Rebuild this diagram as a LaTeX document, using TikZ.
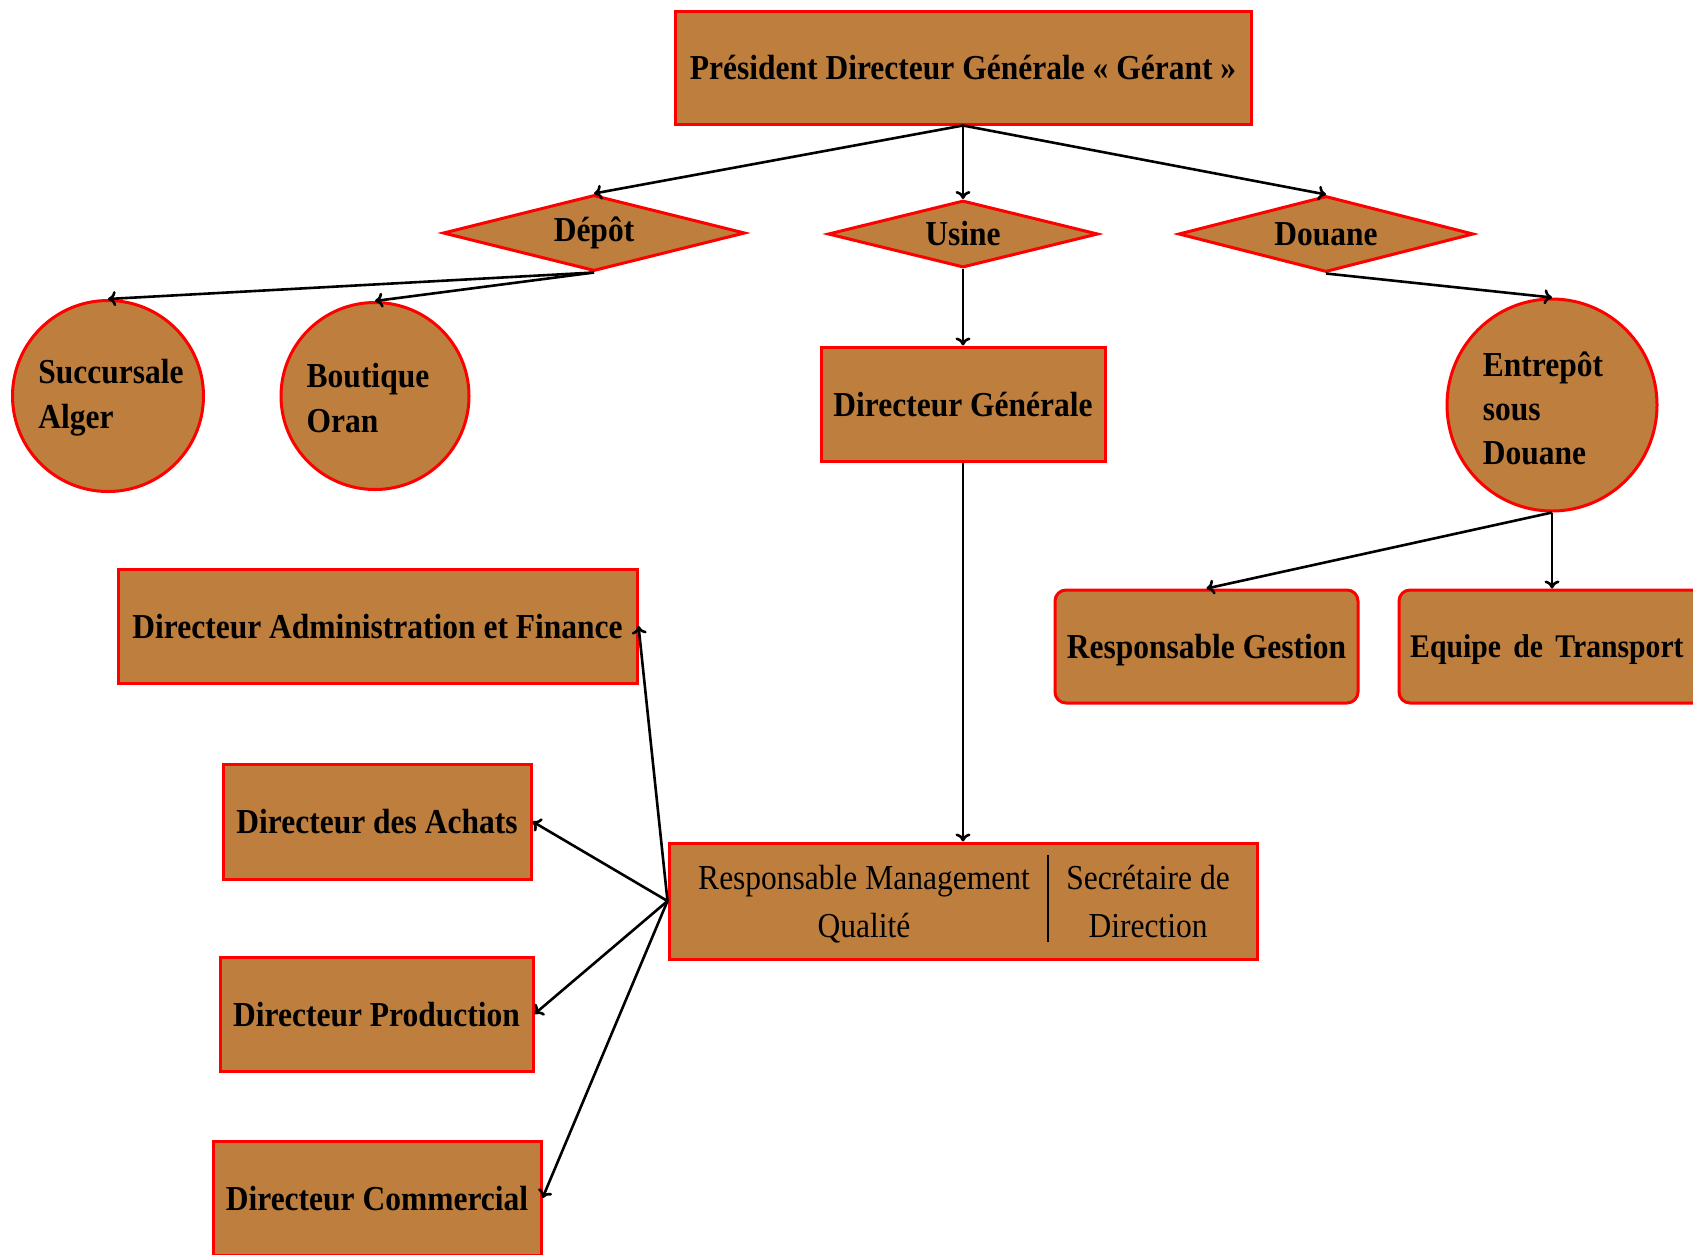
\documentclass[tikz,border=0pt]{standalone}
\usepackage{fontspec}
\setmainfont{Liberation Serif}[FakeStretch=0.9]
\usetikzlibrary{shapes.geometric,arrows.meta}
\definecolor{unitfill}{RGB}{190,126,62}
\definecolor{unitline}{RGB}{255,0,0}
\begin{document}
\begin{tikzpicture}[x=1pt,y=-1pt,
  unit/.style={draw=unitline, fill=unitfill, line width=3pt, inner sep=0pt},
  unitbox/.style={unit, rectangle, text depth=-4pt},
  roundbox/.style={unit, rectangle, rounded corners=11pt, text depth=-3pt},
  losange/.style={unit, diamond, aspect=4},
  rond/.style={unit, ellipse},
  boldtext/.style={font=\fontsize{35}{45}\selectfont\bfseries, inner sep=0pt},
  plaintext/.style={font=\fontsize{35}{48}\selectfont, inner sep=0pt},
  link/.style={draw=black, line width=2.6pt, -{To[length=8pt,width=15pt]}},
]
\useasboundingbox (0,0) rectangle (1693,1254);
\clip (0,0) rectangle (1693,1254);

% top of the hierarchy
\node[unitbox, boldtext, minimum width=576pt, minimum height=113pt] (pdg) at (963,67.5)
  {Président Directeur Générale « Gérant »};

% sites
\node[losange, boldtext, minimum width=302pt, minimum height=76pt] (depot) at (594,233) {Dépôt};
\node[losange, boldtext, minimum width=270pt, minimum height=67pt] (usine) at (963,234) {Usine};
\node[losange, boldtext, minimum width=295pt, minimum height=76pt] (douane) at (1326,234) {Douane};

% branches of the depot
\node[rond, minimum width=191pt, minimum height=191pt] (succ) at (108,396) {};
\node[boldtext, align=left] (succ-label) at (111,398) {Succursale\\Alger};
\node[rond, minimum width=188pt, minimum height=187pt] (boutique) at (375,396) {};
\node[boldtext, align=left] (boutique-label) at (368,398) {Boutique\\Oran};

% factory management
\node[unitbox, boldtext, minimum width=284pt, minimum height=114pt] (dg) at (963,404) {Directeur Générale};

% bonded warehouse
\node[rond, minimum width=210pt, minimum height=212pt] (entrepot) at (1552,405) {};
\node[boldtext, align=left, font=\fontsize{35}{44}\selectfont\bfseries] (entrepot-label) at (1543,408)
  {Entrepôt\\sous\\Douane};
\node[roundbox, boldtext, minimum width=303pt, minimum height=113pt] (respg) at (1206.5,646.5)
  {Responsable Gestion};
\node[roundbox, minimum width=321pt, minimum height=113pt] (equipe) at (1559.5,646.5) {};
\node[boldtext, anchor=west, text depth=-3pt, font=\fontsize{33}{45}\selectfont\bfseries] (equipe-label)
  at (1410,646.5) {Equipe\hspace{0.15em} de\hspace{0.15em} Transport};

% directors
\node[unitbox, boldtext, minimum width=519pt, minimum height=114pt] (daf) at (377.5,626)
  {Directeur Administration et Finance};
\node[unitbox, boldtext, minimum width=308pt, minimum height=115pt] (achats) at (377,821.5)
  {Directeur des Achats};
\node[unitbox, boldtext, minimum width=313pt, minimum height=114pt] (prod) at (376.5,1014)
  {Directeur Production};
\node[unitbox, boldtext, minimum width=328pt, minimum height=114pt] (comm) at (377,1198)
  {Directeur Commercial};

% quality management and secretariat
\node[unitbox, minimum width=588pt, minimum height=116pt] (rmq) at (963,901) {};
\node[plaintext, align=center] (rmq-left) at (864,904) {Responsable Management\\Qualité};
\node[plaintext, align=center] (rmq-right) at (1148,901) {Secrétaire de\\Direction};
\draw[line width=1.2pt] (1048,855) -- (1048,942);

% connectors
\draw[link] (pdg.south) -- (depot.north);
\draw[link] (pdg.south) -- (usine.north);
\draw[link] (pdg.south) -- (douane.north);
\draw[link] (depot.south) -- (succ.north);
\draw[link] (depot.south) -- (boutique.north);
\draw[link] (usine.south) -- (dg.north);
\draw[link] (douane.south) -- (entrepot.north);
\draw[link] (dg.south) -- (rmq.north);
\draw[link] (entrepot.south) -- (respg.north);
\draw[link] (entrepot.south) -- (entrepot.south |- equipe.north);
\draw[link] (rmq.west) -- (daf.east);
\draw[link] (rmq.west) -- (achats.east);
\draw[link] (rmq.west) -- (prod.east);
\draw[link] (rmq.west) -- (comm.east);
\end{tikzpicture}
\end{document}
